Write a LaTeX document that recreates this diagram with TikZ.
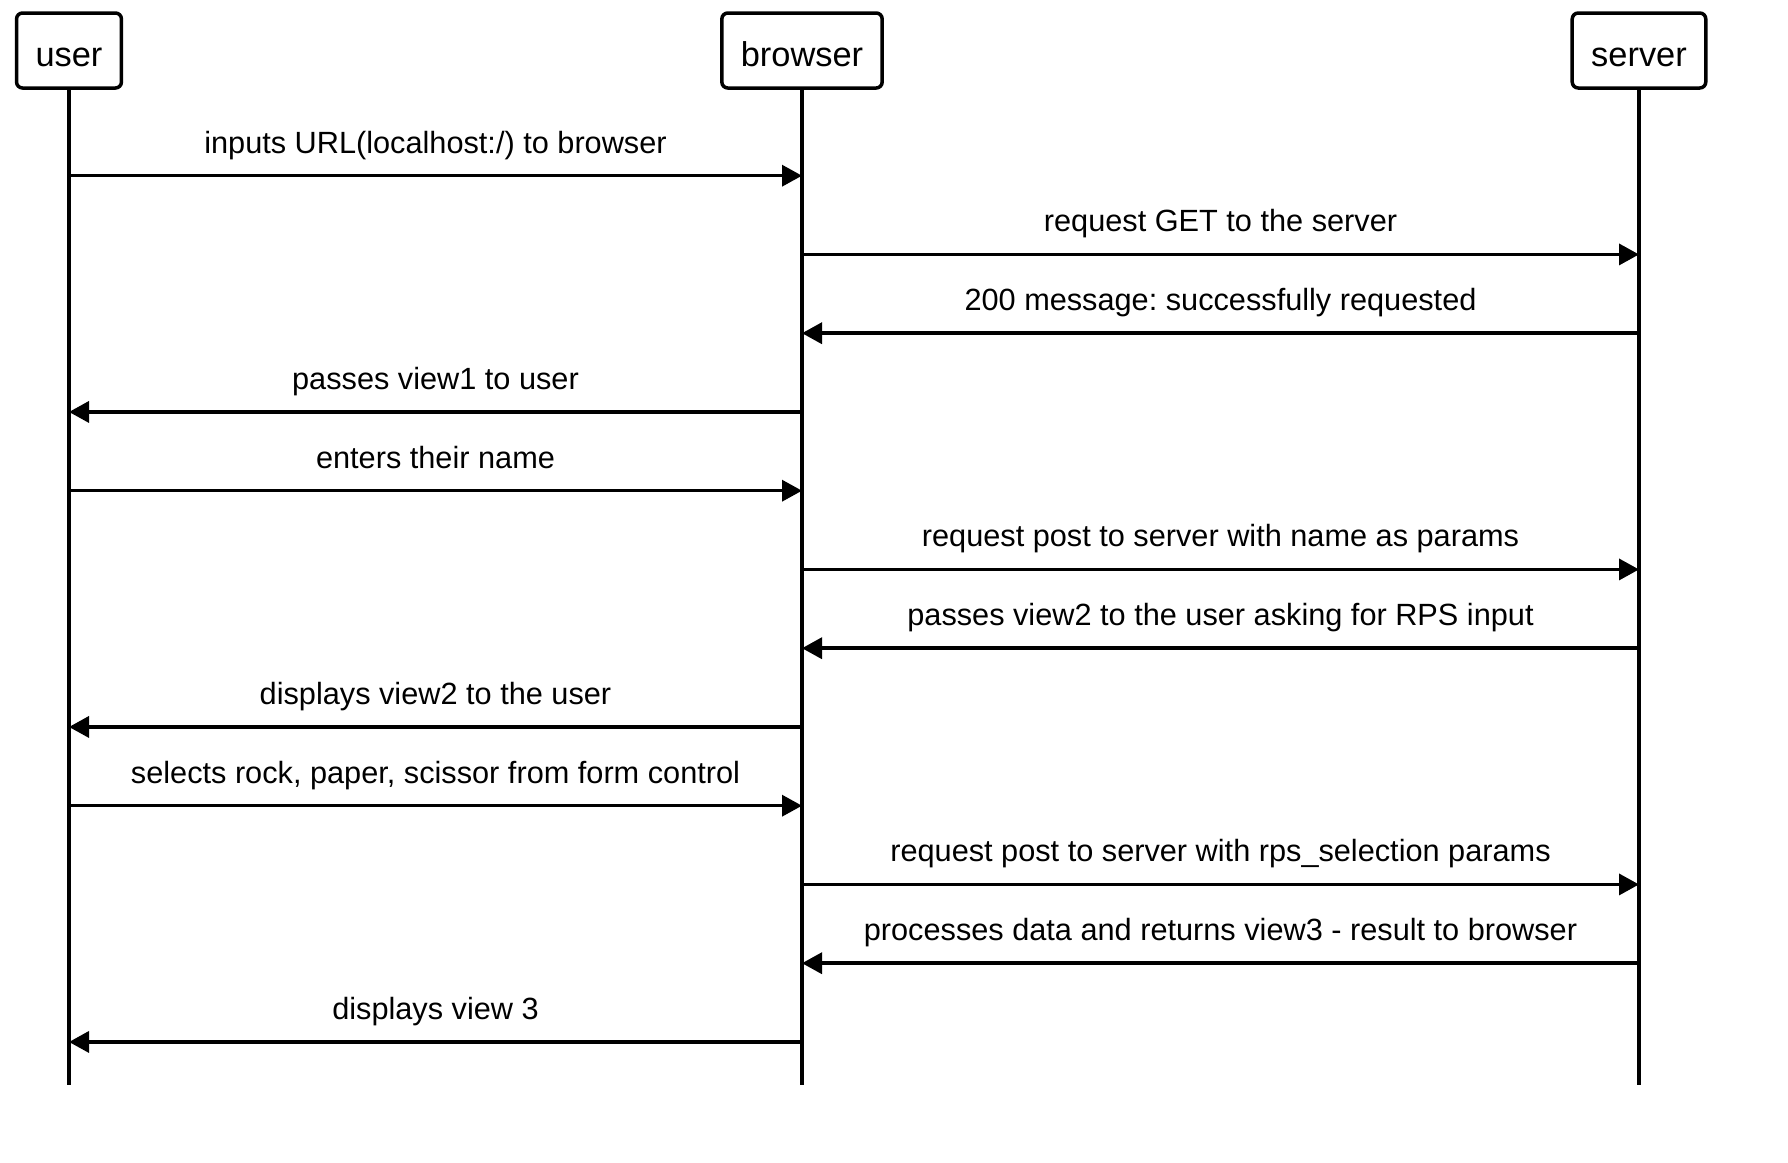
\documentclass[tikz,border=0pt]{standalone}
\usepackage{fontspec}
\setmainfont{Liberation Sans}
\frenchspacing
\usetikzlibrary{arrows.meta}

\begin{document}
	\begin{tikzpicture}[x=0.5pt,y=-0.5pt,>={Triangle[length=10pt,width=10.5pt]},line width=1.75pt,
		actor/.style={draw,rounded corners=3pt,minimum height=37.5pt,inner xsep=9.5pt,text height=16pt,text depth=0pt,font=\fontsize{17.2}{20}\selectfont},
		msg/.style={->},
		lbl/.style={midway,anchor=base,yshift=11.3pt,inner sep=0pt,font=\fontsize{15.35}{18}\selectfont}]
		
		\useasboundingbox (0,0) rectangle (1788,1162);
		
		\node [actor] (user) at (69,50.5) {user};
		\node [actor] (browser) at (802,50.5) {browser};
		\node [actor] (server) at (1639,50.5) {server};
		
		\foreach \n in {user,browser,server} {
			\coordinate (\n-end) at (\n |- 0,1085);
			\draw (\n) -- (\n-end);
			\foreach \i in {1,...,12} {
				\coordinate (\n-\i) at (\n |- 0,{175.7+(\i-1)*78.75});
			}
		}
		
		\draw [msg] (user-1) -- (browser-1) node [lbl] {inputs URL(localhost:/) to browser};
		\draw [msg] (browser-2) -- (server-2) node [lbl] {request GET to the server};
		\draw [msg] (server-3) -- (browser-3) node [lbl] {200 message: successfully requested};
		\draw [msg] (browser-4) -- (user-4) node [lbl] {passes view1 to user};
		\draw [msg] (user-5) -- (browser-5) node [lbl] {enters their name};
		\draw [msg] (browser-6) -- (server-6) node [lbl] {request post to server with name as params};
		\draw [msg] (server-7) -- (browser-7) node [lbl] {passes view2 to the user asking for RPS input};
		\draw [msg] (browser-8) -- (user-8) node [lbl] {displays view2 to the user};
		\draw [msg] (user-9) -- (browser-9) node [lbl] {selects rock, paper, scissor from form control};
		\draw [msg] (browser-10) -- (server-10) node [lbl] {request post to server with rps\_selection params};
		\draw [msg] (server-11) -- (browser-11) node [lbl] {processes data and returns view3 - result to browser};
		\draw [msg] (browser-12) -- (user-12) node [lbl] {displays view 3};
	\end{tikzpicture}
\end{document}
